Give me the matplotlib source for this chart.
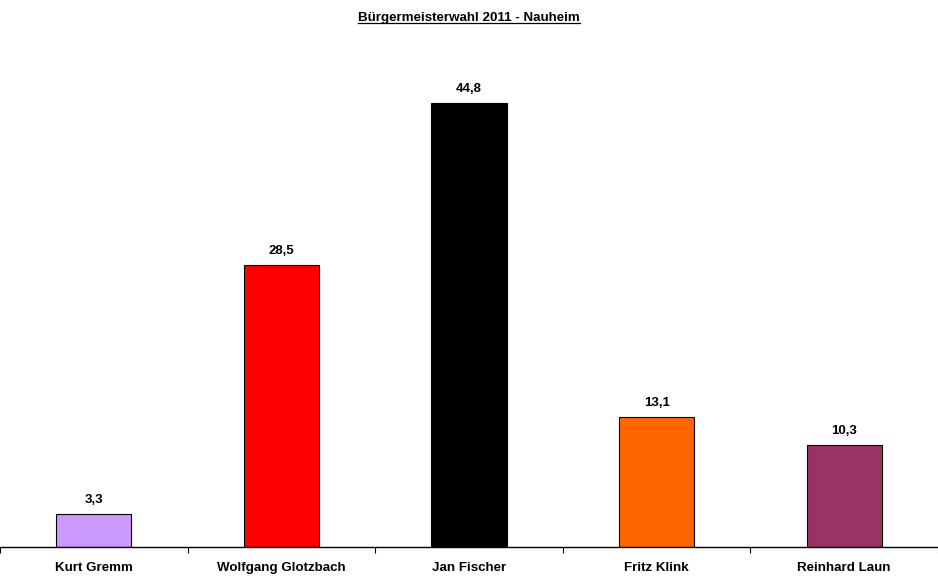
import matplotlib
matplotlib.use('Agg')
import matplotlib.pyplot as plt
import numpy as np
from matplotlib.lines import Line2D

kandidaten = ['Kurt Gremm', 'Wolfgang Glotzbach', 'Jan Fischer', 'Fritz Klink', 'Reinhard Laun']
stimmen = [3.3, 28.5, 44.8, 13.1, 10.3]
farben = ['#CC99FF', '#FF0000', '#000000', '#FF6600', '#993366']
titel = 'Bürgermeisterwahl 2011 - Nauheim'

plt.rcParams['font.family'] = ['Liberation Sans', 'DejaVu Sans']

fig = plt.figure(figsize=(9.38, 5.82), dpi=100)
ax = fig.add_axes([0, 0.0601, 1.0, 0.8514])
x = np.arange(len(kandidaten))
ax.bar(x, stimmen, width=0.4, color=farben, edgecolor='black', linewidth=0.8)
for xi, v in zip(x, stimmen):
    ax.text(xi, v + 0.8, f'{v:.1f}'.replace('.', ','), ha='center', va='bottom',
            fontsize=9.5, fontweight='bold')

ax.set_xlim(-0.5, len(kandidaten) - 0.5)
ax.set_ylim(0, 50)
for s in ['top', 'right', 'left']:
    ax.spines[s].set_visible(False)
ax.spines['bottom'].set_linewidth(1.0)
ax.set_yticks([])
ax.set_xticks(x)
ax.set_xticklabels(kandidaten, fontsize=9.6, fontweight='bold')
ax.tick_params(axis='x', which='major', length=0, pad=11)
ax.set_xticks(np.arange(len(kandidaten) + 1) - 0.5, minor=True)
ax.tick_params(axis='x', which='minor', length=4, direction='out', width=0.8)

t = fig.text(0.5, 1 - 18 / 582, titel, ha='center', va='center', fontsize=9.6, fontweight='bold')
fig.canvas.draw()
bb = t.get_window_extent().transformed(fig.transFigure.inverted())
fig.add_artist(Line2D([bb.x0, bb.x1], [bb.y0 + 0.001, bb.y0 + 0.001], color='black',
                      linewidth=0.9, transform=fig.transFigure))

fig.savefig('out.png', dpi=100)
